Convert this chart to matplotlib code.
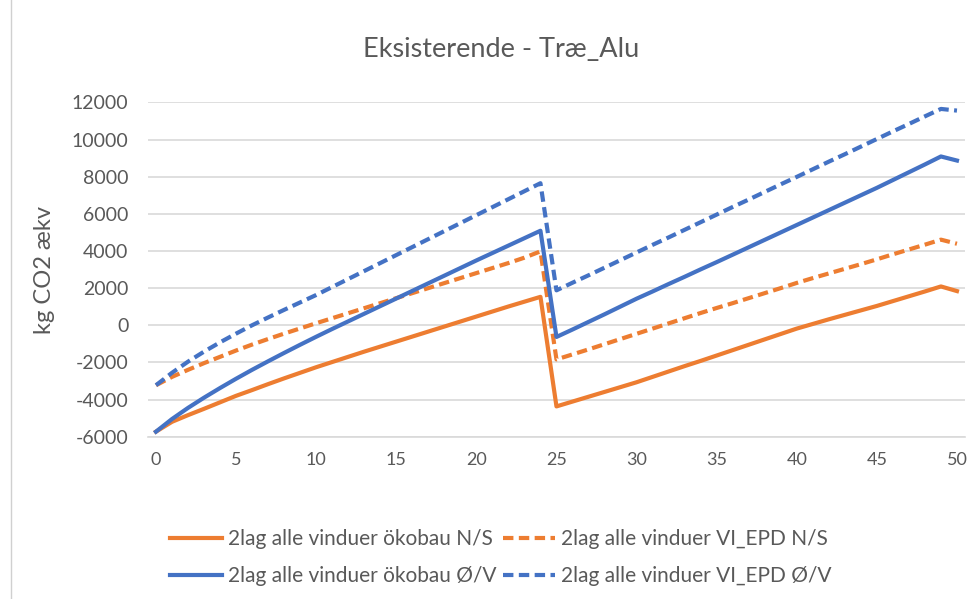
import numpy as np
import matplotlib.pyplot as plt
from matplotlib.lines import Line2D

plt.rcParams['font.family'] = ['Lato', 'DejaVu Sans']

# Years since renovation (category axis 0..50)
years = np.arange(51)

# kg CO2 aekv per year for the four window scenarios
okobau_ns = [-5730, -5200, -4840, -4500, -4150, -3800, -3490, -3170, -2860, -2560,
             -2260, -1980, -1700, -1420, -1150, -880, -610, -340, -70, 200,
             470, 740, 1010, 1270, 1530,
             -4370, -4110, -3850, -3590, -3330, -3070, -2780, -2490, -2200, -1920,
             -1630, -1340, -1050, -760, -470, -180, 70, 320, 560, 800,
             1040, 1300, 1560, 1820, 2090, 1840]
vi_epd_ns = [-3230, -2780, -2400, -2040, -1700, -1360, -1040, -740, -450, -170,
             110, 380, 650, 920, 1190, 1460, 1730, 2000, 2270, 2540,
             2810, 3080, 3350, 3640, 3980,
             -1840, -1570, -1300, -1020, -740, -460, -180, 100, 380, 660,
             930, 1190, 1460, 1730, 2000, 2280, 2540, 2790, 3040, 3290,
             3550, 3820, 4080, 4340, 4610, 4390]
okobau_ov = [-5730, -5050, -4450, -3900, -3380, -2880, -2400, -1940, -1490, -1050,
             -620, -200, 210, 620, 1030, 1440, 1850, 2260, 2670, 3080,
             3490, 3890, 4290, 4690, 5090,
             -630, -230, 180, 590, 1010, 1430, 1820, 2220, 2610, 3010,
             3400, 3800, 4200, 4600, 5000, 5400, 5800, 6200, 6600, 7000,
             7400, 7820, 8240, 8660, 9090, 8870]
vi_epd_ov = [-3230, -2560, -1960, -1420, -920, -450, 0, 420, 830, 1230,
             1630, 2060, 2490, 2920, 3350, 3780, 4210, 4640, 5070, 5500,
             5930, 6360, 6790, 7220, 7650,
             1880, 2290, 2690, 3100, 3510, 3920, 4330, 4730, 5140, 5550,
             5960, 6370, 6770, 7180, 7590, 7990, 8400, 8810, 9210, 9620,
             10030, 10440, 10840, 11250, 11650, 11560]

labels = ['2lag alle vinduer ökobau N/S', '2lag alle vinduer VI_EPD N/S',
          '2lag alle vinduer ökobau Ø/V', '2lag alle vinduer VI_EPD Ø/V']
x_ticks = [0, 5, 10, 15, 20, 25, 30, 35, 40, 45, 50]
y_ticks = [-6000, -4000, -2000, 0, 2000, 4000, 6000, 8000, 10000, 12000]

orange = '#ED7D31'
blue = '#4472C4'
text_grey = '#595959'
dash = (2.5, 1.3)

fig = plt.figure(figsize=(9.76, 5.99), dpi=100)
ax = fig.add_axes([0.1516, 0.271, 0.8371, 0.558])

l1, = ax.plot(years, okobau_ns, color=orange, lw=3, solid_joinstyle='round')
l2, = ax.plot(years, vi_epd_ns, color=orange, lw=3, dashes=dash)
l3, = ax.plot(years, okobau_ov, color=blue, lw=3, solid_joinstyle='round')
l4, = ax.plot(years, vi_epd_ov, color=blue, lw=3, dashes=dash)

ax.set_xlim(-0.5, 50.5)
ax.set_ylim(-6000, 12000)
ax.set_xticks(x_ticks)
ax.set_yticks(y_ticks)
ax.set_yticklabels([str(v) for v in y_ticks])
ax.tick_params(length=0, labelsize=14, colors=text_grey)
ax.tick_params(axis='y', pad=14)
ax.tick_params(axis='x', labelsize=13, pad=11)
ax.grid(axis='y', color='#D9D9D9', lw=1.2)
ax.set_axisbelow(True)
for side in ['top', 'right', 'left']:
    ax.spines[side].set_visible(False)
ax.spines['bottom'].set_color('#D9D9D9')
ax.spines['bottom'].set_linewidth(1.2)

ax.set_ylabel('kg CO2 ækv', fontsize=17, color=text_grey, labelpad=12)
fig.text(0.513, 0.918, 'Eksisterende - Træ_Alu', fontsize=19.5, color=text_grey,
         ha='center', va='center')

fig.legend([l1, l3, l2, l4], [labels[0], labels[2], labels[1], labels[3]],
           loc='center', bbox_to_anchor=(0.513, 0.069), ncol=2, frameon=False,
           fontsize=15, handlelength=2.5, handletextpad=0.25, columnspacing=0.35,
           labelspacing=0.8, labelcolor=text_grey)

# thin chart-area border on the left edge
fig.add_artist(Line2D([0.011, 0.011], [0, 1], transform=fig.transFigure,
                      color='#D0D0D0', lw=1))

fig.savefig('out.png', dpi=100)
